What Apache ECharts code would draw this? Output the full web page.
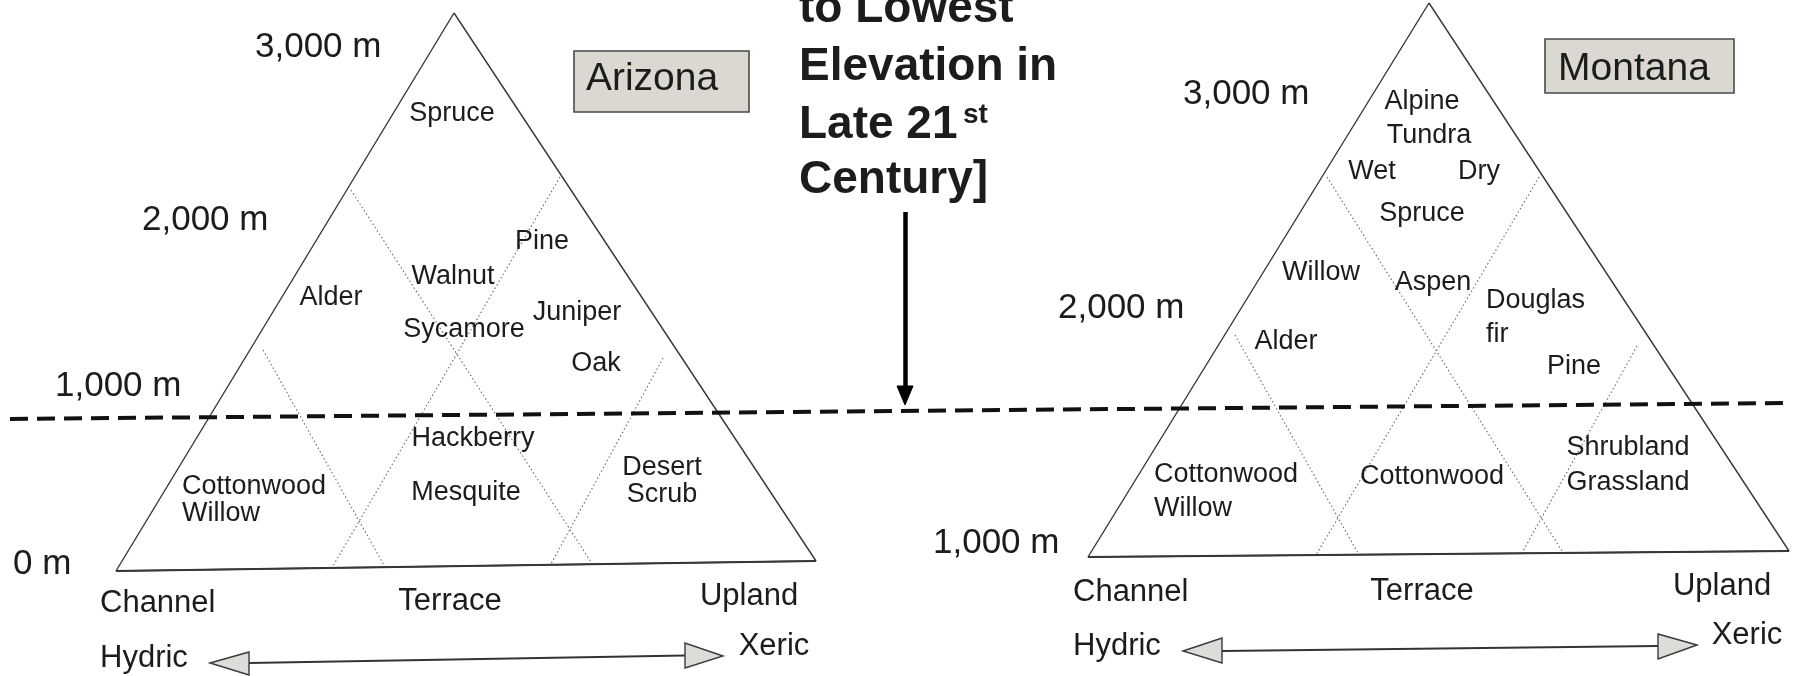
<!DOCTYPE html>
<html lang="en">
<head>
  <meta charset="UTF-8">
  <title>Riparian vegetation zones - Arizona / Montana</title>
  <script src="https://cdn.jsdelivr.net/npm/echarts@6/dist/echarts.min.js"></script>
  <style>
    html, body { margin: 0; padding: 0; background: #fff; }
    #main { width: 1799px; height: 676px; }
  </style>
</head>
<body>
  <div id="main"></div>
  <script type="text/javascript">
    // everything is placed in a plain x/y plane (0..1799, 0..676, y pointing down)

    // triangle outlines: apex, base left, base right
    var arizonaTriangle = [[454, 13], [116, 571], [816, 561]];
    var montanaTriangle = [[1429, 3], [1088, 557], [1789, 551]];

    // dotted boundaries between the vegetation zones
    var arizonaZoneLines = [
      [[351, 190], [591, 562]],
      [[560, 177], [333, 566]],
      [[263, 350], [385, 567]],
      [[663, 358], [551, 564]]
    ];
    var montanaZoneLines = [
      [[1327, 177], [1562, 551]],
      [[1539, 177], [1316, 555]],
      [[1235, 335], [1359, 555]],
      [[1637, 346], [1522, 553]]
    ];

    // projected lowest elevation (dashed line) and the pointer from the title
    var futureLine = [[10, 419], [1788, 403]];
    var pointerShaft = [[905, 212], [905, 390]];
    var pointerHead = [[905, 405], [897, 386], [913, 386]];

    // hydric <-> xeric arrows
    var arrowShafts = [
      [[249, 663], [685, 655.5]],
      [[1222, 651], [1658, 646]]
    ];
    var arrowHeads = [
      [[210, 663], [249, 652], [249, 675]],
      [[723, 656], [685, 643], [685, 668]],
      [[1183, 651], [1222, 638], [1222, 663]],
      [[1697, 645], [1658, 634], [1658, 659]]
    ];

    // state name boxes
    var stateBoxes = [
      [[574, 51], [749, 51], [749, 112], [574, 112]],
      [[1545, 39], [1734, 39], [1734, 93], [1545, 93]]
    ];
    var stateNames = [[652, 76, 'Arizona'], [1634, 66, 'Montana']];

    // elevation labels (left edge, middle)
    var elevationLabels = [
      [255, 44, '3,000 m'], [142, 217, '2,000 m'], [55, 383, '1,000 m'], [13, 561, '0 m'],
      [1183, 91, '3,000 m'], [1058, 305, '2,000 m'], [933, 540, '1,000 m']
    ];

    // vegetation zone names, centred
    var zoneLabels = [
      [452, 111, 'Spruce'], [331, 295, 'Alder'], [453, 274, 'Walnut'], [542, 239, 'Pine'],
      [464, 327, 'Sycamore'], [577, 310, 'Juniper'], [596, 361, 'Oak'], [473, 436, 'Hackberry'],
      [466, 490, 'Mesquite'], [662, 465, 'Desert'], [662, 492, 'Scrub'],
      [1422, 99, 'Alpine'], [1429, 133, 'Tundra'], [1372, 169, 'Wet'], [1479, 169, 'Dry'],
      [1422, 211, 'Spruce'], [1321, 270, 'Willow'], [1433, 280, 'Aspen'], [1286, 339, 'Alder'],
      [1574, 364, 'Pine'], [1432, 474, 'Cottonwood'], [1628, 445, 'Shrubland'], [1628, 480, 'Grassland']
    ];
    // vegetation zone names, left aligned
    var zoneLabelsLeft = [
      [182, 484, 'Cottonwood'], [182, 511, 'Willow'],
      [1486, 298, 'Douglas'], [1486, 332, 'fir'],
      [1154, 472, 'Cottonwood'], [1154, 506, 'Willow']
    ];

    // landscape position / moisture labels
    var positionLabels = [
      [450, 599, 'Terrace'], [749, 594, 'Upland'], [774, 644, 'Xeric'],
      [1422, 589, 'Terrace'], [1722, 584, 'Upland'], [1747, 633, 'Xeric']
    ];
    var positionLabelsLeft = [
      [100, 601, 'Channel'], [100, 656, 'Hydric'],
      [1073, 590, 'Channel'], [1073, 644, 'Hydric']
    ];

    // title fragment (top is cut off in the original)
    var titleLines = [
      [799, 5, 'to Lowest'], [799, 63, 'Elevation in'], [799, 121, 'Late 21'], [799, 176, 'Century]']
    ];
    var titleSup = [[963, 113, 'st']];

    var FONT = '"Liberation Sans", Arial, Helvetica, sans-serif';
    var INK = '#1c1c1c';

    // size in px; text is centred on the cap height, so nudge canvas "middle" down a bit
    function textSeries(rows, size, weight, align) {
      var dy = size * 0.09;
      return {
        type: 'custom',
        coordinateSystem: 'cartesian2d',
        silent: true,
        z: 5,
        data: rows.map(function (r) { return [r[0], r[1]]; }),
        renderItem: function (params, api) {
          var p = api.coord([api.value(0), api.value(1)]);
          return {
            type: 'text',
            x: p[0],
            y: p[1] + dy,
            style: {
              text: rows[params.dataIndex][2],
              font: weight + ' ' + size + 'px ' + FONT,
              fill: INK,
              align: align,
              verticalAlign: 'middle'
            }
          };
        }
      };
    }

    function polygonSeries(shapes, fill, stroke, width, z) {
      return {
        type: 'custom',
        coordinateSystem: 'cartesian2d',
        silent: true,
        z: z,
        data: shapes.map(function (s) { return s[0]; }),
        renderItem: function (params, api) {
          var pts = shapes[params.dataIndex].map(function (q) { return api.coord(q); });
          return {
            type: 'polygon',
            shape: { points: pts },
            style: { fill: fill, stroke: stroke, lineWidth: width }
          };
        }
      };
    }

    function segmentSeries(segs, color, width, type, z) {
      return {
        type: 'lines',
        coordinateSystem: 'cartesian2d',
        silent: true,
        z: z,
        data: segs.map(function (s) { return { coords: s }; }),
        lineStyle: { color: color, width: width, type: type, opacity: 1 }
      };
    }

    function triangleSeries(tri) {
      return {
        type: 'line',
        silent: true,
        z: 3,
        symbol: 'none',
        data: tri.concat([tri[0]]),
        lineStyle: { color: '#383838', width: 1.4 }
      };
    }

    var myChart = echarts.init(document.getElementById('main'));
    var option = {
      animation: false,
      backgroundColor: '#ffffff',
      grid: { left: 0, right: 0, top: 0, bottom: 0 },
      xAxis: { type: 'value', min: 0, max: 1799, show: false },
      yAxis: { type: 'value', min: 0, max: 676, inverse: true, show: false },
      series: [
        triangleSeries(arizonaTriangle),
        triangleSeries(montanaTriangle),
        // slightly heavier base lines
        segmentSeries([[arizonaTriangle[1], arizonaTriangle[2]], [montanaTriangle[1], montanaTriangle[2]]], '#333', 2, 'solid', 3),
        segmentSeries(arizonaZoneLines.concat(montanaZoneLines), '#6a6a6a', 1.1, [1.5, 2.5], 2),
        segmentSeries([futureLine], '#111', 4, [18, 9], 6),
        segmentSeries([pointerShaft], '#000', 4.5, 'solid', 6),
        polygonSeries([pointerHead], '#000', '#000', 1, 6),
        segmentSeries(arrowShafts, '#333', 2, 'solid', 3),
        polygonSeries(arrowHeads, '#dedcd8', '#3a3a3a', 1.4, 4),
        polygonSeries(stateBoxes, '#dbd8d2', '#4a4a4a', 1.6, 2),
        textSeries(stateNames, 39, 'normal', 'center'),
        textSeries(elevationLabels, 35, 'normal', 'left'),
        textSeries(zoneLabels, 27, 'normal', 'center'),
        textSeries(zoneLabelsLeft, 27, 'normal', 'left'),
        textSeries(positionLabels, 31, 'normal', 'center'),
        textSeries(positionLabelsLeft, 31, 'normal', 'left'),
        textSeries(titleLines, 46, 'bold', 'left'),
        textSeries(titleSup, 28, 'bold', 'left')
      ]
    };
    option && myChart.setOption(option);
  </script>
</body>
</html>
